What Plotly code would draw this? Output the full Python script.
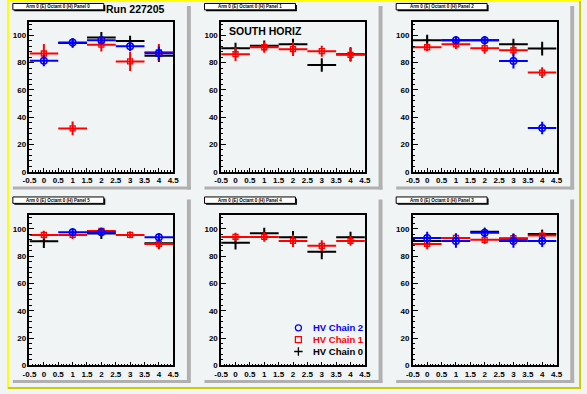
import plotly.graph_objects as go

W, H = 587, 394

BINS = [0, 1, 2, 3, 4]
X_TICK_VALS = [-0.5, 0, 0.5, 1, 1.5, 2, 2.5, 3, 3.5, 4, 4.5]
X_TICK_TEXT = ["-0.5", "0", "0.5", "1", "1.5", "2", "2.5", "3", "3.5", "4", "4.5"]
Y_TICK_VALS = [0, 20, 40, 60, 80, 100]

PAD_TITLES = [
    "Arm 0 (E) Octant 0 (H) Panel 0",
    "Arm 0 (E) Octant 0 (H) Panel 1",
    "Arm 0 (E) Octant 0 (H) Panel 2",
    "Arm 0 (E) Octant 0 (H) Panel 5",
    "Arm 0 (E) Octant 0 (H) Panel 4",
    "Arm 0 (E) Octant 0 (H) Panel 3",
]

# HV Chain 0 (black), per pad, per bin (None = empty bin)
CHAIN0_VALUES = [
    [None, 94.4, 98.4, 95.8, 85.0],
    [90.6, 92.3, 93.5, 78.3, 86.2],
    [96.4, 96.4, 96.4, 93.5, 90.3],
    [91.0, None, 96.6, None, 89.5],
    [89.8, 96.8, 93.9, 83.2, 93.9],
    [91.2, None, 97.8, 92.7, 96.3],
]
CHAIN0_ERRORS = [
    [0, 3.5, 4, 4, 4.5],
    [4, 4, 4, 5, 5],
    [4, 3, 3, 4, 5],
    [5, 0, 4, 0, 4],
    [5, 4, 4.5, 5.5, 4],
    [3.5, 0, 3, 3.5, 3],
]
# HV Chain 1 (red)
CHAIN1_VALUES = [
    [86.7, 31.8, 93.2, 80.9, 87.6],
    [86.2, 91.3, 89.9, 88.4, 85.7],
    [91.3, 93.5, 90.6, 89.1, 72.7],
    [95.6, 95.6, 98.5, 95.6, 89.0],
    [94.1, 94.1, 91.2, 87.6, 91.2],
    [89.0, 93.4, 92.0, 93.2, 95.1],
]
CHAIN1_ERRORS = [
    [7, 5, 5, 7, 6],
    [5, 4, 5, 4, 5],
    [3, 3.5, 4, 4, 4],
    [3, 3, 2.5, 2.5, 4],
    [3, 3.5, 4.5, 4, 3.5],
    [4, 3.5, 3, 3.5, 3],
]
# HV Chain 2 (blue)
CHAIN2_VALUES = [
    [81.4, 94.8, 96.5, 92.0, 86.9],
    None,
    [None, 96.4, 96.4, 81.2, 32.1],
    [None, 97.6, 97.6, None, 93.9],
    None,
    [93.4, 91.2, 97.1, 91.2, 91.2],
]
CHAIN2_ERRORS = [
    [4, 3, 3, 3.5, 5],
    None,
    [0, 3, 3, 5.5, 4.5],
    [0, 3, 3, 0, 3],
    None,
    [4.5, 5, 3, 5, 4.5],
]

LEGEND_LABELS = ["HV Chain 2", "HV Chain 1", "HV Chain 0"]
LEGEND_COLORS = ["#0000ff", "#ff0000", "#000000"]
LEGEND_SYMBOLS = ["circle-open", "square-open", "cross-thin-open"]

BG = "#f0f4f4"
FONT = "Liberation Sans"


def px(x):
    return x / W


def py(y):
    return 1 - y / H


fig = go.Figure()

series = [
    (CHAIN0_VALUES, CHAIN0_ERRORS, "#000000", "cross-thin-open", 0, 1),
    (CHAIN1_VALUES, CHAIN1_ERRORS, "#ff0000", "square-open", 5, 1.3),
    (CHAIN2_VALUES, CHAIN2_ERRORS, "#0000ff", "circle-open", 6.5, 1.5),
]

shapes = []
annotations = []

for i in range(6):
    r, c = divmod(i, 3)
    ox = 2 + 196 * c
    oy = 2 + 196 * r
    ax = "" if i == 0 else str(i + 1)
    xref, yref = "x" + ax, "y" + ax
    for vals, errs, col, sym, size, lw in series:
        v = vals[i]
        if v is None:
            continue
        fig.add_trace(go.Scatter(
            x=BINS, y=v, xaxis=xref, yaxis=yref, mode="markers",
            marker=dict(symbol=sym, size=size, color=col, line=dict(color=col, width=lw)),
            error_x=dict(type="constant", value=0.5, thickness=2, width=0, color=col),
            error_y=dict(type="data", array=errs[i], thickness=2, width=0, color=col),
            showlegend=False, hoverinfo="skip",
        ))
    fx0, fx1 = ox + 21, ox + 168
    fy0, fy1 = oy + 20, oy + 172
    axis_common = dict(showline=True, linecolor="black", linewidth=1.5, mirror=True,
                       showgrid=False, zeroline=False, ticks="inside", tickcolor="black",
                       tickwidth=1,
                       tickfont=dict(family=FONT, size=8, color="black", weight="bold"))
    fig.update_layout(**{
        "xaxis" + ax: dict(domain=[px(fx0), px(fx1)], range=[-0.5, 4.5], anchor=yref,
                           tickmode="array", tickvals=X_TICK_VALS, ticktext=X_TICK_TEXT,
                           ticklen=4,
                           minor=dict(tickmode="linear", tick0=-0.5, dtick=0.1, ticklen=2,
                                      ticks="inside", tickcolor="black", tickwidth=1),
                           **axis_common),
        "yaxis" + ax: dict(domain=[py(fy1), py(fy0)], range=[0, 110], anchor=xref,
                           tickmode="array", tickvals=Y_TICK_VALS, ticklen=5,
                           minor=dict(tickmode="linear", tick0=0, dtick=4, ticklen=2.5,
                                      ticks="inside", tickcolor="black", tickwidth=1),
                           **axis_common),
    })
    # pad shadow
    shapes.append(dict(type="rect", xref="paper", yref="paper", layer="below",
                       x0=px(ox + 182), x1=px(ox + 186), y0=py(oy + 190), y1=py(oy + 4),
                       fillcolor="#b0b0b0", line=dict(width=0)))
    shapes.append(dict(type="rect", xref="paper", yref="paper", layer="below",
                       x0=px(ox + 4), x1=px(ox + 186), y0=py(oy + 190), y1=py(oy + 187),
                       fillcolor="#b0b0b0", line=dict(width=0)))
    # title box with shadow
    shapes.append(dict(type="rect", xref="paper", yref="paper",
                       x0=px(ox + 5.5), x1=px(ox + 98.5), y0=py(oy + 9.5), y1=py(oy + 3),
                       fillcolor="black", line=dict(width=0)))
    shapes.append(dict(type="rect", xref="paper", yref="paper",
                       x0=px(ox + 4), x1=px(ox + 97), y0=py(oy + 8), y1=py(oy + 1.5),
                       fillcolor="white", line=dict(color="black", width=1)))
    annotations.append(dict(xref="paper", yref="paper", x=px(ox + 50.5), y=py(oy + 4.8),
                            text=PAD_TITLES[i], showarrow=False, xanchor="center",
                            yanchor="middle",
                            font=dict(family=FONT, size=4.5, color="black", weight="bold")))

annotations.append(dict(xref="paper", yref="paper", x=px(131), y=py(9), text="Run 227205",
                        showarrow=False, xanchor="center", yanchor="middle",
                        font=dict(family=FONT, size=10.5, color="black", weight="bold")))
annotations.append(dict(xref="x2", yref="y2", x=-0.3, y=103.5, text="SOUTH HORIZ",
                        showarrow=False, xanchor="left", yanchor="middle",
                        font=dict(family=FONT, size=10.5, color="black", weight="bold")))

# legend in pad 5 (manual, on a hidden helper axis)
LEG_X = [8, 8, 8]
LEG_Y = [30, 18, 6]
for k in range(3):
    fig.add_trace(go.Scatter(
        x=[LEG_X[k]], y=[LEG_Y[k]], xaxis="x7", yaxis="y7", mode="markers",
        marker=dict(symbol=LEGEND_SYMBOLS[k], size=6, color=LEGEND_COLORS[k],
                    line=dict(color=LEGEND_COLORS[k], width=1.3)),
        showlegend=False, hoverinfo="skip"))
    annotations.append(dict(xref="x7", yref="y7", x=21, y=LEG_Y[k], text=LEGEND_LABELS[k],
                            showarrow=False, xanchor="left", yanchor="middle",
                            font=dict(family=FONT, size=9.5, color=LEGEND_COLORS[k],
                                      weight="bold")))
fig.update_layout(
    xaxis7=dict(domain=[px(290), px(360)], range=[0, 70], visible=False, anchor="y7"),
    yaxis7=dict(domain=[py(362), py(326)], range=[0, 36], visible=False, anchor="x7"),
)

# canvas yellow border
shapes += [
    dict(type="rect", xref="paper", yref="paper", x0=0, x1=px(2), y0=0, y1=1,
         fillcolor="#ffff00", line=dict(width=0)),
    dict(type="rect", xref="paper", yref="paper", x0=0, x1=1, y0=py(2), y1=1,
         fillcolor="#ffff00", line=dict(width=0)),
    dict(type="rect", xref="paper", yref="paper", x0=px(585), x1=1, y0=0, y1=py(1),
         fillcolor="#cccc00", line=dict(width=0)),
    dict(type="rect", xref="paper", yref="paper", x0=px(1), x1=1, y0=0, y1=py(392),
         fillcolor="#cccc00", line=dict(width=0)),
]

fig.update_layout(
    width=W, height=H, margin=dict(l=0, r=0, t=0, b=0),
    paper_bgcolor=BG, plot_bgcolor=BG, showlegend=False,
    shapes=shapes, annotations=annotations,
)

fig.write_html("out.html", config={"displayModeBar": False},
               post_script="document.body.style.margin='0';document.body.style.overflow='hidden';")
